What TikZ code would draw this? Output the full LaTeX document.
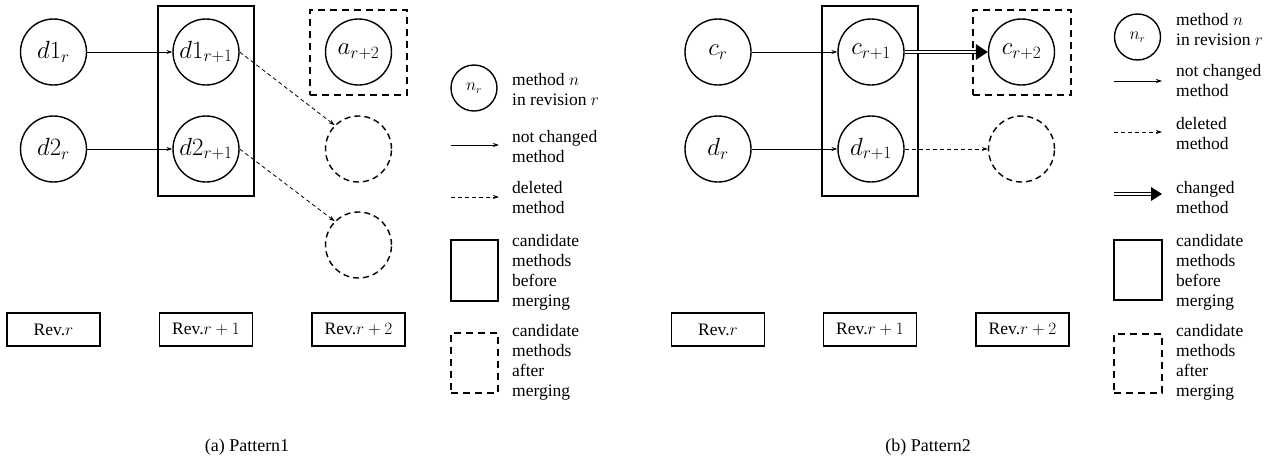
\documentclass[tikz,border=0pt]{standalone}
\usepackage{fontspec}
\setmainfont{Liberation Serif}
\usetikzlibrary{arrows.meta}
\tikzset{
  meth/.style={circle, draw, line width=1.4pt, minimum size=66pt, inner sep=0pt, font=\fontsize{23}{23}\selectfont},
  gone/.style={circle, draw, line width=1.4pt, dash pattern=on 6pt off 4pt, minimum size=66pt, inner sep=0pt},
  keymeth/.style={circle, draw, line width=1.4pt, minimum size=46pt, inner sep=0pt, font=\fontsize{16}{16}\selectfont},
  before/.style={rectangle, draw, line width=1.6pt, inner sep=0pt},
  after/.style={rectangle, draw, line width=1.6pt, dash pattern=on 7pt off 5pt, inner sep=0pt},
  revbox/.style={rectangle, draw, line width=1.5pt, minimum width=93pt, minimum height=33pt, inner sep=0pt, font=\fontsize{17.5}{20}\selectfont},
  keytext/.style={anchor=west, align=left, inner sep=0pt, font=\fontsize{17.5}{20}\selectfont},
  same/.style={line width=0.8pt, -{Stealth[length=6pt,width=4pt]}},
  deleted/.style={line width=0.8pt, dash pattern=on 4pt off 3pt, -{Stealth[length=6pt,width=4pt]}},
  changedline/.style={line width=0.9pt, double distance=2.2pt},
  caption/.style={font=\fontsize{18}{20}\selectfont},
}
\begin{document}
\begin{tikzpicture}[x=1pt,y=-1pt]
\useasboundingbox (0,0) rectangle (1273,472);

% ---------------- (a) Pattern1 ----------------
\node[before, minimum width=96pt, minimum height=190pt] (candA) at (206,101) {};
\node[after, minimum width=97pt, minimum height=85pt] (mergedA) at (358.5,52.5) {};

\node[meth] (d1r)  at (53.5,52)  {$d1_r$};
\node[meth] (d2r)  at (53.5,149) {$d2_r$};
\node[meth] (d1n)  at (206,52)   {$d1_{r+1}$};
\node[meth] (d2n)  at (206,149)  {$d2_{r+1}$};
\node[meth] (ann)  at (358.5,52) {$a_{r+2}$};
\node[gone] (goneA1) at (358.5,149) {};
\node[gone] (goneA2) at (358.5,245) {};

\draw[same] (d1r) -- (d1n);
\draw[same] (d2r) -- (d2n);
\draw[deleted] (d1n.east) -- (goneA1.north west);
\draw[deleted] (d2n.east) -- (goneA2.north west);

\node[revbox] (revA0) at (53.5,329.5) {Rev.$r$};
\node[revbox] (revA1) at (206,329.5)  {Rev.$r+1$};
\node[revbox] (revA2) at (358.5,329.5) {Rev.$r+2$};

% key for (a)
\node[keymeth] (keyA) at (474,88) {$n_r$};
\node[keytext] (keyAt) at (512,89.5) {method $n$\\in revision $r$};
\coordinate (sameA0) at (451,145); \coordinate (sameA1) at (499,145);
\draw[same] (sameA0) -- (sameA1);
\node[keytext] (sameAt) at (512,146.5) {not changed\\method};
\coordinate (delA0) at (451,197); \coordinate (delA1) at (499,197);
\draw[deleted] (delA0) -- (delA1);
\node[keytext] (delAt) at (512,197.5) {deleted\\method};
\node[before, minimum width=47pt, minimum height=61pt] (befA) at (474.5,270.5) {};
\node[keytext] (befAt) at (512,272) {candidate\\methods\\before\\merging};
\node[after, minimum width=47pt, minimum height=60pt] (aftA) at (474.5,363) {};
\node[keytext] (aftAt) at (512,362.5) {candidate\\methods\\after\\merging};

\node[caption] (capA) at (247,447) {(a) Pattern1};

% ---------------- (b) Pattern2 ----------------
\node[before, minimum width=96pt, minimum height=190pt] (candB) at (870,101) {};
\node[after, minimum width=98pt, minimum height=85pt] (mergedB) at (1022,52.5) {};

\node[meth] (cr)  at (718,52)   {$c_r$};
\node[meth] (dr)  at (718,149)  {$d_r$};
\node[meth] (cn)  at (871,52)   {$c_{r+1}$};
\node[meth] (dn)  at (871,149)  {$d_{r+1}$};
\node[meth] (cnn) at (1021.5,52) {$c_{r+2}$};
\node[gone] (goneB) at (1021.5,149) {};

\draw[same] (cr) -- (cn);
\draw[same] (dr) -- (dn);
\draw[deleted] (dn) -- (goneB);
\coordinate (chgTip) at (cnn.west);
\coordinate (chgBase) at ([xshift=-12pt]cnn.west);
\draw[changedline] (cn.east) -- ([xshift=1pt]chgBase);
\fill ([yshift=8pt]chgBase) -- (chgTip) -- ([yshift=-8pt]chgBase) -- cycle;

\node[revbox] (revB0) at (718,329.5)  {Rev.$r$};
\node[revbox] (revB1) at (870,329.5)  {Rev.$r+1$};
\node[revbox] (revB2) at (1022.5,329.5) {Rev.$r+2$};

% key for (b)
\node[keymeth] (keyB) at (1137.5,37) {$n_r$};
\node[keytext] (keyBt) at (1176,29.5) {method $n$\\in revision $r$};
\coordinate (sameB0) at (1114,81); \coordinate (sameB1) at (1162,81);
\draw[same] (sameB0) -- (sameB1);
\node[keytext] (sameBt) at (1176,81) {not changed\\method};
\coordinate (delB0) at (1114,132); \coordinate (delB1) at (1162,132);
\draw[deleted] (delB0) -- (delB1);
\node[keytext] (delBt) at (1176,134) {deleted\\method};
\coordinate (chgB0) at (1114,194); \coordinate (chgB1) at (1162,194);
\coordinate (chgB2) at (1151,194);
\draw[changedline] (chgB0) -- (chgB2);
\fill ([yshift=7pt]chgB2) -- (chgB1) -- ([yshift=-7pt]chgB2) -- cycle;
\node[keytext] (chgBt) at (1176,198) {changed\\method};
\node[before, minimum width=48pt, minimum height=60pt] (befB) at (1138,270) {};
\node[keytext] (befBt) at (1176,272.5) {candidate\\methods\\before\\merging};
\node[after, minimum width=48pt, minimum height=59pt] (aftB) at (1138,363.5) {};
\node[keytext] (aftBt) at (1176,362.5) {candidate\\methods\\after\\merging};

\node[caption] (capB) at (928,447) {(b) Pattern2};
\end{tikzpicture}
\end{document}
